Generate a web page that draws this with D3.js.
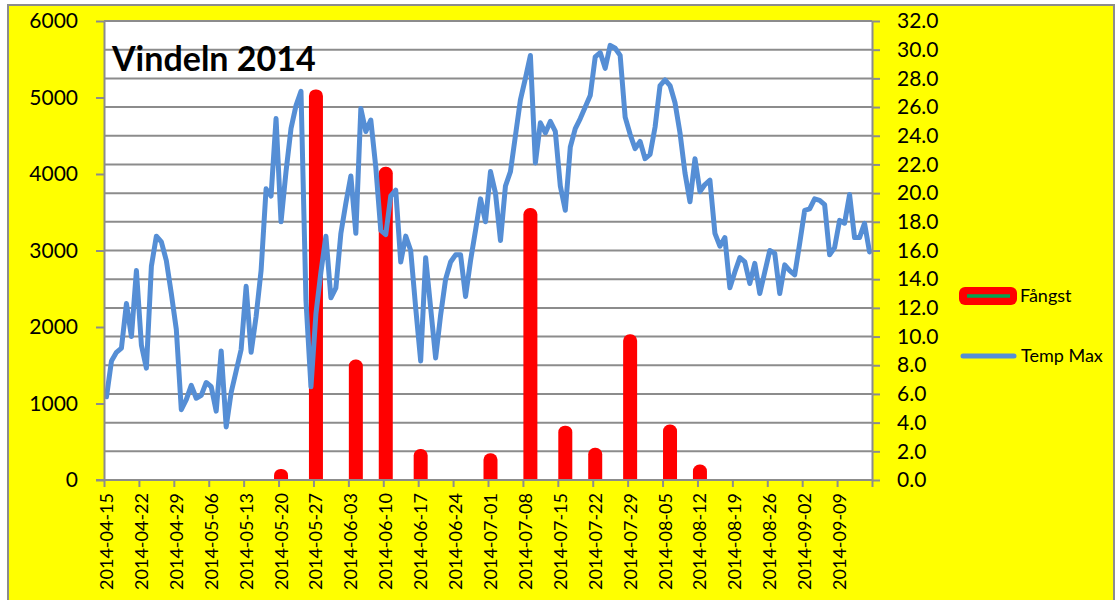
<!DOCTYPE html>
<meta charset="utf-8">
<style>
body { margin: 0; background: #fff; }
svg text { font-family: Lato, "Open Sans", sans-serif; fill: #000; }
.axis path, .axis line { stroke: #8c8c8c; stroke-width: 2; }
</style>
<svg width="1117" height="600"></svg>
<script src="https://d3js.org/d3.v7.min.js"></script>
<script>

// daily max temperature from 2014-04-15 to 2014-09-15
var firstDay = "2014-04-15";
var tempMax = [
  5.8, 8.3, 8.9, 9.2, 12.3, 10.0, 14.6, 9.4, 7.8, 14.9,
  17.0, 16.6, 15.3, 13.0, 10.5, 4.9, 5.6, 6.6, 5.7, 5.9,
  6.8, 6.5, 4.8, 9.0, 3.7, 6.1, 7.6, 9.1, 13.5, 8.9,
  11.4, 14.6, 20.3, 19.8, 25.2, 18.0, 21.5, 24.5, 26.1, 27.1,
  12.5, 6.5, 11.6, 14.5, 17.0, 12.7, 13.4, 17.2, 19.3, 21.2,
  17.2, 25.9, 24.3, 25.1, 21.8, 17.4, 17.1, 19.8, 20.2, 15.2,
  17.0, 16.0, 12.0, 8.3, 15.5, 12.0, 8.5, 11.5, 14.0, 15.2,
  15.7, 15.7, 12.8, 15.3, 17.4, 19.6, 18.0, 21.5, 20.0, 16.7,
  20.5, 21.5, 24.0, 26.5, 28.0, 29.6, 22.1, 24.9, 24.2, 25.0,
  24.3, 20.5, 18.8, 23.2, 24.5, 25.2, 26.0, 26.8, 29.5, 29.8,
  28.7, 30.3, 30.1, 29.6, 25.3, 24.1, 23.1, 23.6, 22.4, 22.7,
  24.6, 27.5, 27.9, 27.5, 26.3, 24.2, 21.4, 19.4, 22.4, 20.1,
  20.6, 20.9, 17.2, 16.3, 16.9, 13.4, 14.5, 15.5, 15.2, 13.7,
  15.1, 13.0, 14.5, 16.0, 15.8, 13.0, 15.0, 14.6, 14.3, 16.5,
  18.8, 18.9, 19.6, 19.5, 19.2, 15.7, 16.2, 18.1, 17.9, 19.9,
  16.9, 16.9, 17.9, 15.9
];

// catch counts
var catchDates = ["2014-05-20", "2014-05-27", "2014-06-04", "2014-06-10", "2014-06-17", "2014-07-01",
                  "2014-07-09", "2014-07-16", "2014-07-22", "2014-07-29", "2014-08-06", "2014-08-12"];
var catchValues = [60, 5020, 1490, 4010, 320, 265, 3470, 625, 335, 1820, 640, 117];

var leftTicks = [0, 1000, 2000, 3000, 4000, 5000, 6000];
var rightTicks = [0, 2, 4, 6, 8, 10, 12, 14, 16, 18, 20, 22, 24, 26, 28, 30, 32];
var legendNames = ["Fångst", "Temp Max"];

var svg = d3.select("svg");
var parse = d3.utcParse("%Y-%m-%d");
var fmt = d3.utcFormat("%Y-%m-%d");

var plotLeft = 104, plotRight = 872, plotTop = 21, plotBottom = 480;
var start = parse(firstDay);
var end = d3.utcDay.offset(start, tempMax.length);

var x = d3.scaleUtc().domain([start, end]).range([plotLeft, plotRight]);
var yL = d3.scaleLinear().domain([0, 6000]).range([plotBottom, plotTop]);
var yR = d3.scaleLinear().domain([0, 32]).range([plotBottom, plotTop]);

function mid(d) { return d3.utcHour.offset(d, 12); }

// background
svg.append("rect")
    .attr("x", 8).attr("y", 5).attr("width", 1106).attr("height", 610)
    .attr("fill", "#ffff00").attr("stroke", "#8c8c8c").attr("stroke-width", 2);

svg.append("rect")
    .attr("x", plotLeft).attr("y", plotTop).attr("width", plotRight - plotLeft).attr("height", plotBottom - plotTop)
    .attr("fill", "#fff");

svg.append("clipPath").attr("id", "plot")
  .append("rect")
    .attr("x", plotLeft).attr("y", 0).attr("width", plotRight - plotLeft).attr("height", plotBottom);

// gridlines
svg.append("g").selectAll("line")
    .data(rightTicks.slice(1))
    .enter().append("line")
    .attr("x1", plotLeft).attr("x2", plotRight)
    .attr("y1", function(d) { return yR(d); })
    .attr("y2", function(d) { return yR(d); })
    .attr("stroke", "#8c8c8c").attr("stroke-width", 2);

// bars
var bars = catchDates.map(function(d, i) { return {date: parse(d), value: catchValues[i]}; });
svg.append("g").attr("clip-path", "url(#plot)").selectAll("rect")
    .data(bars)
    .enter().append("rect")
    .attr("x", function(d) { return x(mid(d.date)) - 0.5; })
    .attr("y", function(d) { return yL(d.value); })
    .attr("width", 1)
    .attr("height", function(d) { return plotBottom - yL(d.value) + 10; })
    .attr("fill", "#00a651")
    .attr("stroke", "#ff0000")
    .attr("stroke-width", 13)
    .attr("stroke-linejoin", "round");

// temperature line
var days = tempMax.map(function(t, i) { return {date: d3.utcDay.offset(start, i), t: t}; });
var line = d3.line()
    .x(function(d) { return x(mid(d.date)); })
    .y(function(d) { return yR(d.t); });

svg.append("path")
    .datum(days)
    .attr("d", line)
    .attr("fill", "none")
    .attr("stroke", "#558ed5")
    .attr("stroke-width", 5)
    .attr("stroke-linejoin", "round")
    .attr("stroke-linecap", "round");

// axes
var weeks = d3.utcDay.range(start, d3.utcDay.offset(end, 1), 7);

var xAxis = svg.append("g")
    .attr("class", "axis")
    .attr("transform", "translate(0," + plotBottom + ")")
    .call(d3.axisBottom(x).tickValues(weeks).tickSize(7).tickSizeOuter(0)
      .tickFormat(function(d) { return d < end ? fmt(d) : ""; }));
xAxis.select(".domain").attr("d", "M" + (plotLeft - 8) + ",0H" + plotRight);
xAxis.selectAll("text")
    .attr("transform", "rotate(-90)")
    .attr("x", -13)
    .attr("y", 2)
    .attr("dy", "0.36em")
    .style("text-anchor", "end")
    .style("font-size", "18px")
    .style("font-family", "Lato, sans-serif");

svg.append("g")
    .attr("class", "axis")
    .attr("transform", "translate(" + plotLeft + ",0)")
    .call(d3.axisLeft(yL).tickValues(leftTicks).tickSize(8).tickSizeOuter(0).tickPadding(18)
      .tickFormat(d3.format("d")))
  .selectAll("text")
    .style("font-size", "21px")
    .style("font-family", "Lato, sans-serif");

svg.append("g")
    .attr("class", "axis")
    .attr("transform", "translate(" + plotRight + ",0)")
    .call(d3.axisRight(yR).tickValues(rightTicks).tickSize(8).tickSizeOuter(0).tickPadding(17)
      .tickFormat(d3.format(".1f")))
  .selectAll("text")
    .style("font-size", "21px")
    .style("font-family", "Lato, sans-serif");

// title
svg.append("text")
    .attr("x", 112).attr("y", 71)
    .style("font-size", "34px")
    .style("font-weight", "bold")
    .text("Vindeln 2014");

// legend
var legend = svg.append("g");
legend.append("rect")
    .attr("x", 959).attr("y", 287).attr("width", 58).attr("height", 18).attr("rx", 6)
    .attr("fill", "#ff0000");
legend.append("line")
    .attr("x1", 967).attr("x2", 1010).attr("y1", 296).attr("y2", 296)
    .attr("stroke", "#00a651").attr("stroke-width", 3.5);
legend.append("line")
    .attr("x1", 963).attr("x2", 1014).attr("y1", 356).attr("y2", 356)
    .attr("stroke", "#558ed5").attr("stroke-width", 5).attr("stroke-linecap", "round");
legend.selectAll("text.name")
    .data(legendNames)
    .enter().append("text")
    .attr("class", "name")
    .attr("x", function(d, i) { return i == 0 ? 1020 : 1021; })
    .attr("y", function(d, i) { return i == 0 ? 302 : 362; })
    .style("font-size", "18px")
    .text(function(d) { return d; });

</script>
